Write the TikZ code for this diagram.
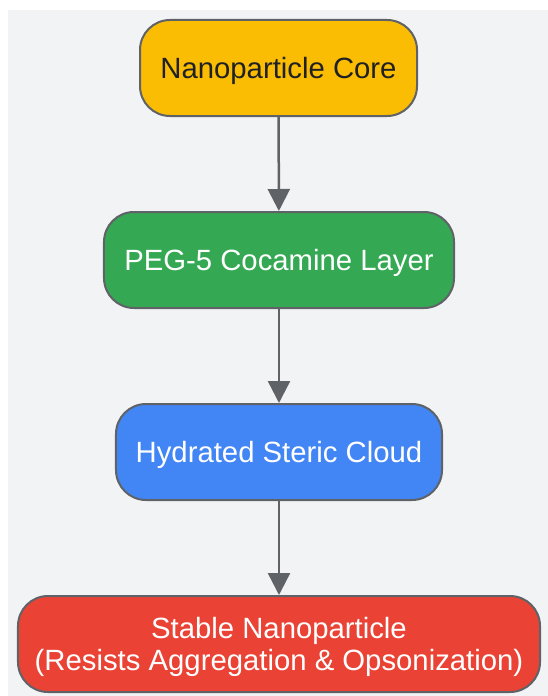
\documentclass[tikz,border=0pt]{standalone}
\usepackage{fontspec}
\setmainfont{Liberation Sans}
\usetikzlibrary{arrows.meta}
\definecolor{bggray}{HTML}{F1F3F4}
\definecolor{edgegray}{HTML}{5F6368}
\definecolor{gyellow}{HTML}{FBBC04}
\definecolor{ggreen}{HTML}{34A853}
\definecolor{gblue}{HTML}{4285F4}
\definecolor{gred}{HTML}{EA4335}
\definecolor{darktext}{HTML}{202124}
\tikzset{
  box/.style={draw=edgegray, line width=2bp, rounded corners=30bp, minimum height=96bp,
    inner sep=0pt, align=center, text depth=0pt, font=\fontsize{29.3bp}{32.5bp}\selectfont},
  conn/.style={draw=edgegray, line width=2.5bp, -{Triangle[length=22bp,width=22bp]}}
}
\begin{document}
\begin{tikzpicture}[x=1bp,y=-1bp]
\useasboundingbox (0,0) rectangle (548,696);
\fill[white] (0,0) rectangle (548,696);
\fill[bggray] (8,10) rectangle (548,696);
\node[box, fill=gyellow, text=darktext, minimum width=277bp] (core) at (278.5,68) {Nanoparticle Core};
\node[box, fill=ggreen, text=white, minimum width=350bp] (peg) at (279,260) {PEG-5 Cocamine Layer};
\node[box, fill=gblue, text=white, minimum width=326bp] (cloud) at (279,452) {Hydrated Steric Cloud};
\node[box, fill=gred, text=white, minimum width=522bp] (stable) at (279,644) {Stable Nanoparticle\\(Resists Aggregation \& Opsonization)};
\draw[conn] (core) -- (peg);
\draw[conn] (peg) -- (cloud);
\draw[conn] (cloud) -- (stable);
\end{tikzpicture}
\end{document}
